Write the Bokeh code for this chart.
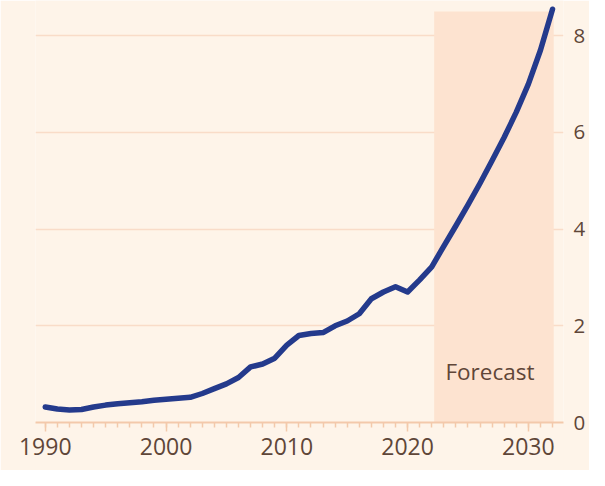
from bokeh.plotting import figure
from bokeh.models import SingleIntervalTicker, FixedTicker, LinearAxis, Range1d, ColumnDataSource
from bokeh.core.properties import value
from bokeh.embed import file_html
from bokeh.resources import INLINE

years = list(range(1990, 2033))
values = [0.32, 0.28, 0.26, 0.27, 0.32, 0.36, 0.39, 0.41, 0.43, 0.46,
          0.48, 0.50, 0.52, 0.60, 0.70, 0.80, 0.93, 1.15, 1.21, 1.33,
          1.60, 1.80, 1.84, 1.86, 2.00, 2.10, 2.25, 2.56, 2.70, 2.81,
          2.70, 2.95, 3.22, 3.65, 4.07, 4.50, 4.95, 5.42, 5.90, 6.42,
          7.00, 7.70, 8.55]
forecast_start = [2022.2]
forecast_end = [2032.1]
forecast_top = [8.5]
y_ticks = [0, 2, 4, 6, 8]
forecast_label = "Forecast"

BG = "#fef4e9"
BAND = "#fde3d0"
LINE = "#243a8c"
GRID = "#f9dcc8"
AXIS = "#f3c9ab"
TEXT = "#5f4638"
FONT = "Open Sans"

p = figure(width=589, height=470, output_backend="svg", toolbar_location=None,
           x_range=Range1d(1989.19, 2032.91), y_range=Range1d(0, 8.73),
           min_border_left=35, min_border_right=26, min_border_top=0, min_border_bottom=48,
           background_fill_color=BG, border_fill_color=BG, outline_line_color=None,
           x_axis_location="below", y_axis_location=None)

src_band = ColumnDataSource(dict(left=forecast_start, right=forecast_end,
                                 top=forecast_top, bottom=[0]))
p.quad(left="left", right="right", top="top", bottom="bottom", source=src_band,
       fill_color=BAND, line_color=None)

p.line(years, values, line_color=LINE, line_width=5.5, line_cap="round", line_join="round")

p.text(x=[2026.82], y=[1.06], text=[forecast_label], text_align="center",
       text_baseline="middle", text_font=value(FONT), text_font_size="22.5px",
       text_color=TEXT)

# x axis
xa = p.xaxis[0]
xa.ticker = SingleIntervalTicker(interval=10, num_minor_ticks=10)
xa.axis_line_color = AXIS
xa.axis_line_width = 2
xa.major_tick_line_color = AXIS
xa.major_tick_line_width = 1.5
xa.major_tick_out = 9
xa.major_tick_in = 0
xa.minor_tick_line_color = AXIS
xa.minor_tick_line_width = 1.5
xa.minor_tick_out = 5
xa.minor_tick_in = 0
xa.major_label_text_font = FONT
xa.major_label_text_font_size = "23px"
xa.major_label_text_color = TEXT
xa.major_label_standoff = 6

# right y axis
ya = LinearAxis(ticker=FixedTicker(ticks=y_ticks))
ya.axis_line_color = None
ya.major_tick_line_color = None
ya.minor_tick_line_color = None
ya.major_tick_out = 0
ya.major_tick_in = 0
ya.minor_tick_out = 0
ya.minor_tick_in = 0
ya.axis_label_standoff = 0
ya.axis_label_text_font_size = "0px"
ya.major_label_text_font = FONT
ya.major_label_text_font_size = "20.5px"
ya.major_label_text_color = TEXT
ya.major_label_standoff = 10
p.add_layout(ya, "right")

p.xgrid.grid_line_color = None
p.ygrid.grid_line_color = GRID
p.ygrid.grid_line_width = 1.5
p.ygrid.ticker = FixedTicker(ticks=[2, 4, 6, 8])

open("out.html", "w").write(file_html(p, INLINE))
